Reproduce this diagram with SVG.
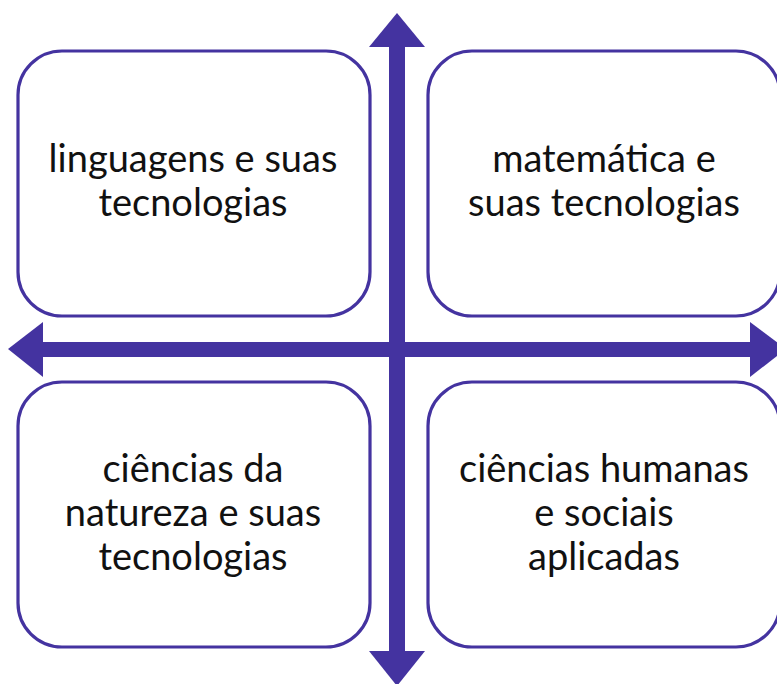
<svg xmlns="http://www.w3.org/2000/svg" width="777" height="684" viewBox="0 0 777 684">
<style>
.box{fill:#fff;stroke:#4433a0;stroke-width:3.2}
.lbl{font-family:Lato,"Open Sans","Liberation Sans",sans-serif;font-size:38px;fill:#111;text-anchor:middle}
.ax{fill:#4433a0}
</style>
<rect width="777" height="684" fill="#fff"/>
<g id="n1"><rect class="box" x="18" y="51" width="352" height="265" rx="44" ry="44"/>
<text class="lbl"><tspan x="193" y="172">linguagens e suas</tspan><tspan x="193" y="216">tecnologias</tspan></text></g>
<g id="n2"><rect class="box" x="428" y="51" width="352" height="265" rx="44" ry="44"/>
<text class="lbl"><tspan x="604" y="172">matemática e</tspan><tspan x="604" y="216">suas tecnologias</tspan></text></g>
<g id="n3"><rect class="box" x="18" y="382" width="352" height="265" rx="44" ry="44"/>
<text class="lbl"><tspan x="193" y="482">ciências da</tspan><tspan x="193" y="526">natureza e suas</tspan><tspan x="193" y="570">tecnologias</tspan></text></g>
<g id="n4"><rect class="box" x="428" y="382" width="352" height="265" rx="44" ry="44"/>
<text class="lbl"><tspan x="604" y="482">ciências humanas</tspan><tspan x="604" y="526">e sociais</tspan><tspan x="604" y="570">aplicadas</tspan></text></g>
<g id="connectors">
<rect class="ax" x="389" y="46" width="16" height="606"/>
<rect class="ax" x="42" y="342" width="709" height="15"/>
<polygon class="ax" points="397,13 425,47 369,47"/>
<polygon class="ax" points="397,686 369,651 425,651"/>
<polygon class="ax" points="8,349 43,322 43,377"/>
<polygon class="ax" points="786,349 750,322 750,377"/>
</g>
</svg>
